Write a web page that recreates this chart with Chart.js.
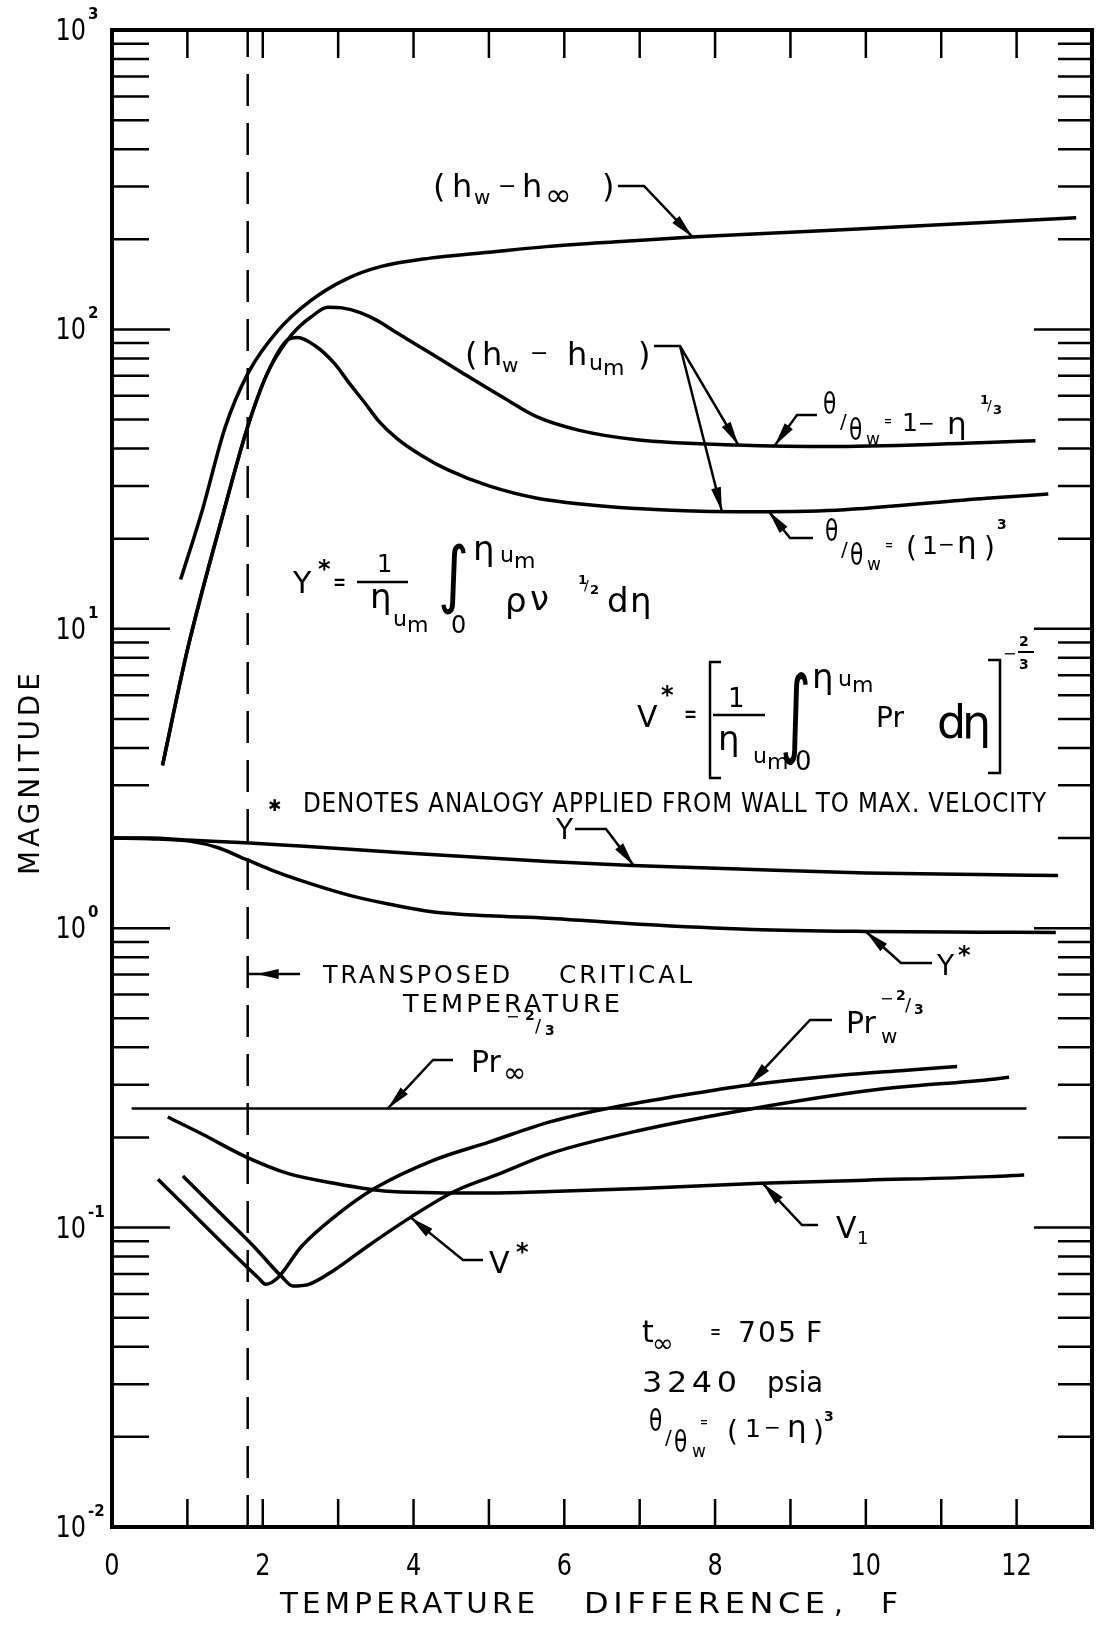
<!DOCTYPE html>
<html>
<head>
<meta charset="utf-8">
<script src="https://cdn.jsdelivr.net/npm/chart.js@4.4.0/dist/chart.umd.min.js"></script>
<style>
  html, body { margin: 0; padding: 0; background: #fff; }
  #wrap { width: 1096px; height: 1625px; position: relative; }
</style>
</head>
<body>
<div id="wrap"><canvas id="chart"></canvas></div>
<script>
// ---- Series (temperature difference F, magnitude) ----
// (h_w - h_inf)
const hInfX = [0.91, 1.2, 1.5, 1.8, 2.2, 2.64, 3.1, 3.56, 4.22, 5.0, 5.76, 6.8, 7.75, 9.0, 10.27, 11.5, 12.79];
const hInfY = [14.6, 25, 47, 71, 99, 125, 147, 162, 173, 181, 189, 197, 204, 211, 219, 227, 236];
// (h_w - h_um), theta/theta_w = 1 - eta^(1/3)
const hUm13X = [0.67, 1.0, 1.45, 1.8, 2.06, 2.33, 2.5, 2.64, 2.86, 3.05, 3.3, 3.52, 3.79, 4.2, 4.67, 5.2, 5.64, 6.2, 6.96, 8.28, 9.61, 11.6, 12.25];
const hUm13Y = [3.5, 8.5, 23, 47.3, 71.3, 92.3, 103, 110, 118.6, 118, 113.6, 107, 97, 84, 71, 59, 51, 46, 42.8, 41.1, 40.6, 41.9, 42.5];
// (h_w - h_um), theta/theta_w = (1 - eta)^3
const hUm3X = [0.67, 1.0, 1.45, 1.8, 2.06, 2.33, 2.46, 2.7, 2.95, 3.15, 3.35, 3.55, 3.79, 4.1, 4.45, 5.0, 5.64, 6.96, 8.28, 9.61, 11.6, 12.42];
const hUm3Y = [3.5, 8.5, 23, 47.3, 71.3, 92.3, 94, 88, 77, 66, 57, 49, 43, 38, 34, 30, 27.3, 25.2, 24.6, 24.9, 27.3, 28.2];
// Y
const yX = [0, 0.5, 1.0, 1.77, 2.5, 3.8, 5.78, 6.9, 8.5, 10, 11.5, 12.55];
const yY = [2.0, 2.0, 1.97, 1.93, 1.88, 1.79, 1.67, 1.62, 1.57, 1.53, 1.51, 1.50];
// Y*
const yStarX = [0, 0.5, 1.05, 1.4, 1.77, 2.1, 2.48, 3.14, 3.7, 4.24, 5.0, 5.78, 7.0, 8.5, 10, 11.5, 12.52];
const yStarY = [2.0, 1.99, 1.95, 1.86, 1.70, 1.57, 1.45, 1.29, 1.20, 1.135, 1.10, 1.08, 1.03, 0.99, 0.975, 0.97, 0.968];
// Pr_inf^(-2/3)
const prInfX = [0.26, 12.13];
const prInfY = [0.25, 0.25];
// Pr_w^(-2/3)
const prWX = [0.61, 1.0, 1.5, 1.94, 2.04, 2.2, 2.51, 2.95, 3.48, 4.27, 5.0, 5.82, 6.57, 7.5, 8.43, 9.66, 10.5, 11.21];
const prWY = [0.145, 0.116, 0.087, 0.068, 0.0647, 0.068, 0.0863, 0.1086, 0.135, 0.168, 0.193, 0.226, 0.25, 0.275, 0.299, 0.323, 0.335, 0.345];
// V*
const vStarX = [0.94, 1.4, 1.9, 2.25, 2.4, 2.6, 2.95, 3.4, 3.97, 4.54, 5.1, 5.82, 7.01, 8.51, 10.1, 11.65, 11.9];
const vStarY = [0.1486, 0.114, 0.0855, 0.0686, 0.0638, 0.0645, 0.0722, 0.087, 0.1086, 0.132, 0.150, 0.177, 0.2114, 0.25, 0.288, 0.3126, 0.318];
// V1
const v1X = [0.74, 1.2, 1.77, 2.33, 2.95, 3.61, 4.28, 5.0, 5.82, 7.0, 8.6, 10.0, 11.65, 12.1];
const v1Y = [0.234, 0.205, 0.1726, 0.1517, 0.1406, 0.1325, 0.1308, 0.1305, 0.132, 0.135, 0.1407, 0.144, 0.148, 0.150];
// transposed critical temperature difference
const tcX = 1.8;

// ---- Axes ----
const xMin = 0, xMax = 13;
const yMin = 0.01, yMax = 1000;
const xTickValues = [1, 2, 3, 4, 5, 6, 7, 8, 9, 10, 11, 12];
const xLabelValues = [0, 2, 4, 6, 8, 10, 12];
const xTickLabels = ['0', '2', '4', '6', '8', '10', '12'];
const yDecades = [-2, -1, 0, 1, 2, 3];
const yDecadeLabels = ['-2', '-1', '0', '1', '2', '3'];

const FONT = '"DejaVu Sans", "Liberation Sans", sans-serif';
const CURVE_W = 3.5;

function pts(xs, ys) { return xs.map((x, i) => ({ x: x, y: ys[i] })); }
function curve(xs, ys, w) {
  return { data: pts(xs, ys), borderColor: '#000', borderWidth: w || CURVE_W, pointRadius: 0,
           cubicInterpolationMode: 'monotone', fill: false };
}
// log-linear lookup on a series, used to put leader arrows on the curves
function valAt(xs, ys, x) {
  for (let i = 0; i < xs.length - 1; i++) {
    if (x >= xs[i] && x <= xs[i + 1]) {
      const t = (x - xs[i]) / (xs[i + 1] - xs[i]);
      return Math.pow(10, Math.log10(ys[i]) + t * (Math.log10(ys[i + 1]) - Math.log10(ys[i])));
    }
  }
  return ys[ys.length - 1];
}

function put(ctx, s, x, y, size, o) {
  o = o || {};
  ctx.save();
  ctx.font = (o.weight || 400) + ' ' + size + 'px ' + (o.family || FONT);
  const ls = o.ls || 0;
  ctx.letterSpacing = ls + 'px';
  ctx.textAlign = 'left';
  ctx.textBaseline = 'alphabetic';
  ctx.fillStyle = '#000';
  const m = ctx.measureText(s).width - ls;
  let k = o.sx || 1;
  if (o.w) k = o.w / m;
  ctx.translate(x, y);
  if (o.rot) ctx.rotate(o.rot);
  ctx.scale(k, o.sy || 1);
  let dx = 0;
  if (o.align === 'center') dx = -m / 2;
  else if (o.align === 'right') dx = -m;
  ctx.fillText(s, dx, 0);
  ctx.restore();
}

function line(ctx, p, w) {
  ctx.save();
  ctx.strokeStyle = '#000';
  ctx.lineWidth = w || 2.5;
  ctx.lineCap = 'butt';
  ctx.lineJoin = 'miter';
  ctx.beginPath();
  ctx.moveTo(p[0][0], p[0][1]);
  for (let i = 1; i < p.length; i++) ctx.lineTo(p[i][0], p[i][1]);
  ctx.stroke();
  ctx.restore();
}

function arrowHead(ctx, from, tip, len, half) {
  const dx = tip[0] - from[0], dy = tip[1] - from[1];
  const d = Math.hypot(dx, dy), ux = dx / d, uy = dy / d;
  const bx = tip[0] - ux * len, by = tip[1] - uy * len;
  ctx.save();
  ctx.fillStyle = '#000';
  ctx.beginPath();
  ctx.moveTo(tip[0], tip[1]);
  ctx.lineTo(bx - uy * half, by + ux * half);
  ctx.lineTo(bx + uy * half, by - ux * half);
  ctx.closePath();
  ctx.fill();
  ctx.restore();
}

// ---- Labels and leaders ----
const B = { weight: 700 };
const TH = { sx: 0.7 };
const EQ = { sx: 0.6 };
const notePieces = [
  // (h_w - h_inf)
  ['(', 433, 197, 32], ['h', 452, 197, 32], ['w', 474, 204, 20], ['\u2212', 498, 193, 22],
  ['h', 522, 197, 32], ['\u221E', 545, 206, 32], [')', 602, 197, 32],
  // (h_w - h_um)
  ['(', 465, 365, 32], ['h', 482, 365, 32], ['w', 502, 372, 20], ['\u2212', 530, 360, 22],
  ['h', 567, 365, 32], ['u', 589, 370, 22], ['m', 603, 375, 22], [')', 638, 365, 32],
  // theta/theta_w = 1 - eta^(1/3)
  ['\u03B8', 823, 414, 31, TH], ['/', 840, 428, 20], ['\u03B8', 849, 440, 31, TH], ['w', 866, 445, 17],
  ['=', 884, 426, 16, EQ], ['1', 902, 431, 25], ['\u2212', 918, 430, 20], ['\u03B7', 947, 434, 31],
  ['1', 980, 404, 13, B], ['/', 987, 410, 14], ['3', 993, 414, 13, B],
  // theta/theta_w = (1 - eta)^3
  ['\u03B8', 825, 541, 31, TH], ['/', 841, 556, 20], ['\u03B8', 850, 565, 31, TH], ['w', 867, 570, 17],
  ['=', 885, 550, 16, EQ], ['(', 906, 557, 28], ['1', 922, 554, 25], ['\u2212', 938, 551, 20],
  ['\u03B7', 957, 553, 31], [')', 984, 557, 28], ['3', 997, 529, 14, B],
  // Y*  definition
  ['Y', 293, 593, 30], ['*', 318, 577, 24, B], ['=', 333, 591, 26, EQ],
  ['1', 377, 572, 24], ['\u03B7', 370, 608, 34], ['u', 393, 626, 22], ['m', 407, 632, 22],
  ['\u03B7', 473, 560, 34], ['u', 500, 562, 22], ['m', 514, 568, 22], ['0', 451, 633, 24],
  ['\u03C1', 505, 612, 34], ['\u03BD', 530, 610, 34],
  ['1', 578, 584, 13, B], ['/', 584, 590, 14], ['2', 590, 594, 13, B],
  ['d', 607, 612, 34], ['\u03B7', 630, 612, 34],
  // V* definition
  ['V', 637, 727, 30], ['*', 661, 703, 24, B], ['=', 684, 723, 26, EQ],
  ['1', 728, 707, 26], ['\u03B7', 718, 750, 34], ['u', 753, 763, 22], ['m', 767, 769, 22],
  ['\u03B7', 812, 688, 34], ['u', 838, 686, 22], ['m', 852, 692, 22], ['0', 795, 770, 26],
  ['Pr', 876, 727, 28], ['d', 937, 738, 46], ['\u03B7', 962, 738, 46],
  ['\u2212', 1003, 659, 16], ['2', 1019, 646, 14, B], ['3', 1019, 669, 14, B],
  // Y, Y*
  ['Y', 556, 839, 28],
  ['Y', 937, 975, 28], ['*', 958, 963, 24, B],
  // Pr_inf^(-2/3)
  ['Pr', 471, 1072, 30], ['\u221E', 503, 1082, 28],
  ['\u2212', 506, 1022, 16], ['2', 525, 1020, 14, B], ['/', 535, 1032, 18], ['3', 545, 1035, 14, B],
  // Pr_w^(-2/3)
  ['Pr', 846, 1033, 30], ['w', 881, 1043, 20],
  ['\u2212', 880, 1004, 16], ['2', 896, 1000, 14, B], ['/', 905, 1011, 18], ['3', 914, 1014, 14, B],
  // V1, V*
  ['V', 836, 1238, 30], ['1', 857, 1244, 18],
  ['V', 489, 1273, 30], ['*', 516, 1260, 24, B],
  // conditions
  ['t', 642, 1342, 30], ['\u221E', 652, 1352, 26], ['=', 710, 1339, 22, EQ],
  ['705', 738, 1342, 28, { w: 58, ls: 2 }], ['F', 806, 1342, 28],
  ['3240', 642, 1392, 28, { w: 95, ls: 4 }], ['psia', 767, 1392, 28, { w: 56 }],
  ['\u03B8', 649, 1431, 31, TH], ['/', 665, 1444, 20], ['\u03B8', 674, 1452, 31, TH], ['w', 692, 1457, 17],
  ['=', 700, 1427, 16, EQ], ['(', 727, 1441, 28], ['1', 745, 1437, 25], ['\u2212', 764, 1434, 20],
  ['\u03B7', 787, 1437, 31], [')', 813, 1441, 28], ['3', 824, 1421, 14, B]
];

const leaders = [
  { path: [[618, 186], [644, 186]], xs: hInfX, ys: hInfY, at: 7.7 },
  { path: [[654, 346], [680, 346]], xs: hUm13X, ys: hUm13Y, at: 8.31 },
  { path: [[680, 346]], xs: hUm3X, ys: hUm3Y, at: 8.09 },
  { path: [[817, 415], [797, 415]], xs: hUm13X, ys: hUm13Y, at: 8.79 },
  { path: [[813, 538], [790, 538]], xs: hUm3X, ys: hUm3Y, at: 8.71 },
  { path: [[575, 829], [606, 829]], xs: yX, ys: yY, at: 6.92 },
  { path: [[932, 963], [901, 963]], xs: yStarX, ys: yStarY, at: 10.0 },
  { path: [[453, 1060], [433, 1060]], xs: prInfX, ys: prInfY, at: 3.66 },
  { path: [[832, 1020], [810, 1020]], xs: prWX, ys: prWY, at: 8.45 },
  { path: [[818, 1225], [802, 1225]], xs: v1X, ys: v1Y, at: 8.63 },
  { path: [[483, 1260], [463, 1260]], xs: vStarX, ys: vStarY, at: 3.96 }
];

const decorPlugin = {
  id: 'decor',
  afterDatasetsDraw(chart) {
    const ctx = chart.ctx, a = chart.chartArea;
    const xs = chart.scales.x, ys = chart.scales.y;

    // inward tick marks on all four sides
    ctx.save();
    ctx.strokeStyle = '#000';
    ctx.lineWidth = 2.5;
    ctx.beginPath();
    yDecades.forEach(d => {
      const v = Math.pow(10, d);
      const py = ys.getPixelForValue(v);
      ctx.moveTo(a.left, py); ctx.lineTo(a.left + 58, py);
      ctx.moveTo(a.right, py); ctx.lineTo(a.right - 58, py);
      if (d < 3) {
        for (let m = 2; m <= 9; m++) {
          const q = ys.getPixelForValue(m * v);
          ctx.moveTo(a.left, q); ctx.lineTo(a.left + 37, q);
          ctx.moveTo(a.right, q); ctx.lineTo(a.right - 34, q);
        }
      }
    });
    xTickValues.forEach(v => {
      const px = xs.getPixelForValue(v);
      ctx.moveTo(px, a.bottom); ctx.lineTo(px, a.bottom - 28);
      ctx.moveTo(px, a.top); ctx.lineTo(px, a.top + 28);
    });
    ctx.stroke();
    // frame
    ctx.lineWidth = 4;
    ctx.strokeRect(a.left, a.top, a.right - a.left, a.bottom - a.top);
    ctx.restore();

    // tick labels
    xLabelValues.forEach((v, i) => {
      put(ctx, xTickLabels[i], xs.getPixelForValue(v), 1575, 30, { sx: 0.8, align: 'center' });
    });
    yDecades.forEach((d, i) => {
      const py = ys.getPixelForValue(Math.pow(10, d));
      put(ctx, '10', a.left - 26, py + 10, 30, { sx: 0.8, align: 'right' });
      put(ctx, yDecadeLabels[i], a.left - 24, py - 11, 15, { weight: 700 });
    });

    // axis titles
    put(ctx, 'MAGNITUDE', 39, 875, 28, { rot: -Math.PI / 2, w: 202, ls: 4 });
    put(ctx, 'TEMPERATURE', 280, 1613, 28, { w: 255, ls: 4 });
    put(ctx, 'DIFFERENCE', 584, 1613, 28, { w: 241, ls: 4 });
    put(ctx, ',', 834, 1613, 28);
    put(ctx, 'F', 881, 1613, 28, { w: 17 });

    // notes
    put(ctx, '\u2731', 268, 811, 16);
    put(ctx, 'DENOTES ANALOGY APPLIED FROM WALL TO MAX. VELOCITY', 303, 812, 27, { w: 743, ls: 1 });
    put(ctx, 'TRANSPOSED', 323, 983, 25, { w: 187, ls: 3 });
    put(ctx, 'CRITICAL', 559, 983, 25, { w: 133, ls: 3 });
    put(ctx, 'TEMPERATURE', 403, 1012, 25, { w: 217, ls: 3 });
    notePieces.forEach(p => put(ctx, p[0], p[1], p[2], p[3], p[4]));

    // fraction bars, integrals, brackets of the two definitions
    line(ctx, [[357, 582], [408, 582]], 2.5);
    line(ctx, [[713, 715], [765, 715]], 2.5);
    line(ctx, [[1018, 652], [1034, 652]], 2);
    put(ctx, '\u222B', 438, 599, 46, { sx: 1.3, sy: 1.6 });
    put(ctx, '\u222B', 780, 745, 46, { sx: 1.3, sy: 2.1 });
    line(ctx, [[721, 662], [710, 662], [710, 778], [721, 778]], 2.5);
    line(ctx, [[988, 660], [1000, 660], [1000, 773], [988, 773]], 2.5);

    // leader lines with arrowheads landing on the curves
    leaders.forEach(L => {
      const tip = [xs.getPixelForValue(L.at), ys.getPixelForValue(valAt(L.xs, L.ys, L.at))];
      const p = L.path.concat([tip]);
      line(ctx, p, 2.5);
      arrowHead(ctx, p[p.length - 2], tip, 24, 5);
    });
    // transposed critical temperature pointer
    const tx = xs.getPixelForValue(tcX);
    line(ctx, [[300, 974], [tx, 974]], 2.5);
    arrowHead(ctx, [300, 974], [tx + 9, 974], 22, 5);
  }
};

const dashed = {
  data: [{ x: tcX, y: yMin }, { x: tcX, y: yMax }],
  borderColor: '#000', borderWidth: 2.5, borderDash: [32, 17], pointRadius: 0, fill: false
};

new Chart(document.getElementById('chart'), {
  type: 'line',
  data: {
    datasets: [
      curve(hInfX, hInfY),
      curve(hUm13X, hUm13Y),
      curve(hUm3X, hUm3Y),
      curve(yX, yY),
      curve(yStarX, yStarY),
      curve(prInfX, prInfY, 2.5),
      curve(prWX, prWY),
      curve(vStarX, vStarY),
      curve(v1X, v1Y),
      dashed
    ]
  },
  options: {
    responsive: true,
    maintainAspectRatio: false,
    animation: false,
    devicePixelRatio: 1,
    parsing: false,
    normalized: true,
    layout: { padding: { top: 30, right: 4, left: 0, bottom: 0 } },
    plugins: { legend: { display: false }, tooltip: { enabled: false } },
    scales: {
      x: {
        type: 'linear', min: xMin, max: xMax,
        grid: { display: false, drawTicks: false }, border: { display: false },
        ticks: { display: false },
        afterFit(s) { s.height = 98; }
      },
      y: {
        type: 'logarithmic', min: yMin, max: yMax,
        grid: { display: false, drawTicks: false }, border: { display: false },
        ticks: { display: false },
        afterFit(s) { s.width = 112; }
      }
    }
  },
  plugins: [decorPlugin]
});
</script>
</body>
</html>
